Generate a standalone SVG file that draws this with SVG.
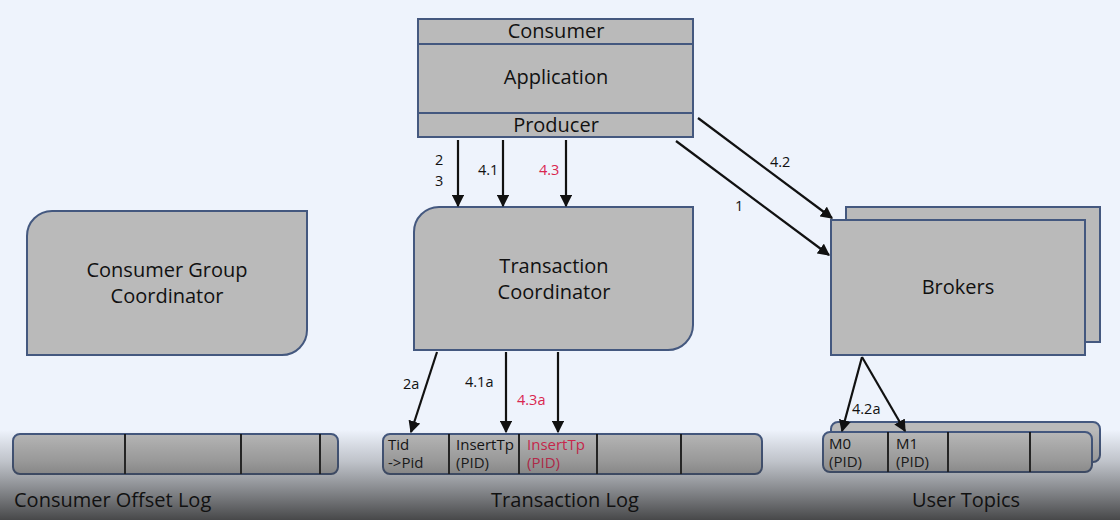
<svg xmlns="http://www.w3.org/2000/svg" width="1120" height="520" viewBox="0 0 1120 520">
<style>
text{font-family:"Open Sans","Noto Sans","Liberation Sans",sans-serif;fill:#111}
.box{fill:#bababa;stroke:#44587f;stroke-width:2}
.t{font-size:20px;text-anchor:middle}
.lbl{font-size:14.5px}
.cell{font-size:15px}
.red{fill:#d9264f}
.div{stroke:#111;stroke-width:1.8}
.ar{stroke:#111;stroke-width:2.2;fill:none;marker-end:url(#ah)}
.cap{font-size:20px}
</style>
<defs>
<marker id="ah" viewBox="0 0 10 10" refX="9" refY="5" markerWidth="5.5" markerHeight="5.5" orient="auto" markerUnits="strokeWidth">
<path d="M0,0 L10,5 L0,10 z" fill="#111"/>
</marker>
<linearGradient id="shade" x1="0" y1="0" x2="0" y2="1">
<stop offset="0" stop-color="#222" stop-opacity="0"/>
<stop offset="0.35" stop-color="#333" stop-opacity="0.25"/>
<stop offset="1" stop-color="#2a2a2a" stop-opacity="0.85"/>
</linearGradient>
</defs>
<rect x="0" y="0" width="1120" height="520" fill="#eef3fc"/>

<g id="application">
<rect class="box" x="418" y="19" width="275" height="118"/>
<line x1="418" y1="44" x2="693" y2="44" stroke="#44587f" stroke-width="2"/>
<line x1="418" y1="113" x2="693" y2="113" stroke="#44587f" stroke-width="2"/>
<text class="t" x="556" y="38">Consumer</text>
<text class="t" x="556" y="84">Application</text>
<text class="t" x="556" y="132">Producer</text>
</g>

<g id="consumer-group-coordinator">
<path class="box" d="M52,211 H307 V330 A25,25 0 0 1 282,355 H27 V236 A25,25 0 0 1 52,211 Z"/>
<text class="t" x="167" y="277">Consumer Group</text>
<text class="t" x="167" y="303">Coordinator</text>
</g>

<g id="transaction-coordinator">
<path class="box" d="M439,207 H693 V325 A25,25 0 0 1 668,350 H414 V232 A25,25 0 0 1 439,207 Z"/>
<text class="t" x="554" y="273">Transaction</text>
<text class="t" x="554" y="299">Coordinator</text>
</g>

<g id="brokers">
<rect class="box" x="846" y="207" width="254" height="135"/>
<rect class="box" x="831" y="220" width="254" height="135"/>
<text class="t" x="958" y="294">Brokers</text>
</g>

<g id="consumer-offset-log">
<rect class="box" x="13" y="434" width="325" height="40" rx="7"/>
<line class="div" x1="125" y1="434" x2="125" y2="474"/>
<line class="div" x1="241" y1="434" x2="241" y2="474"/>
<line class="div" x1="320" y1="434" x2="320" y2="474"/>
</g>

<g id="transaction-log">
<rect class="box" x="383" y="434" width="379" height="40" rx="7"/>
<line class="div" x1="449" y1="434" x2="449" y2="474"/>
<line class="div" x1="519" y1="434" x2="519" y2="474"/>
<line class="div" x1="597" y1="434" x2="597" y2="474"/>
<line class="div" x1="681" y1="434" x2="681" y2="474"/>
<text class="cell" x="388" y="450">Tid</text>
<text class="cell" x="388" y="468">-&gt;Pid</text>
<text class="cell" x="456" y="450">InsertTp</text>
<text class="cell" x="456" y="468">(PID)</text>
<text class="cell red" x="527" y="450">InsertTp</text>
<text class="cell red" x="527" y="468">(PID)</text>
</g>

<g id="user-topics">
<rect class="box" x="831" y="422" width="269" height="40" rx="7"/>
<rect class="box" x="823" y="432" width="269" height="40" rx="7"/>
<line class="div" x1="888" y1="432" x2="888" y2="472"/>
<line class="div" x1="948" y1="432" x2="948" y2="472"/>
<line class="div" x1="1030" y1="432" x2="1030" y2="472"/>
<text class="cell" x="829" y="449">M0</text>
<text class="cell" x="829" y="467">(PID)</text>
<text class="cell" x="896" y="449">M1</text>
<text class="cell" x="896" y="467">(PID)</text>
</g>

<g id="connectors">
<line class="ar" x1="458" y1="140" x2="458" y2="206"/>
<line class="ar" x1="503" y1="140" x2="503" y2="206"/>
<line class="ar" x1="566" y1="140" x2="566" y2="206"/>
<line class="ar" x1="698" y1="118" x2="832" y2="218"/>
<line class="ar" x1="676" y1="141" x2="829" y2="255"/>
<line class="ar" x1="437" y1="352" x2="411" y2="432"/>
<line class="ar" x1="506" y1="352" x2="506" y2="432"/>
<line class="ar" x1="558" y1="352" x2="558" y2="432"/>
<line class="ar" x1="862" y1="357" x2="842" y2="431"/>
<line class="ar" x1="862" y1="357" x2="905" y2="431"/>
<text class="lbl" x="435" y="165">2</text>
<text class="lbl" x="435" y="186">3</text>
<text class="lbl" x="478" y="175">4.1</text>
<text class="lbl red" x="539" y="175">4.3</text>
<text class="lbl" x="770" y="167">4.2</text>
<text class="lbl" x="735" y="211">1</text>
<text class="lbl" x="403" y="389">2a</text>
<text class="lbl" x="465" y="387">4.1a</text>
<text class="lbl red" x="517" y="405">4.3a</text>
<text class="lbl" x="852" y="414">4.2a</text>
</g>

<rect x="0" y="430" width="1120" height="90" fill="url(#shade)"/>
<text class="cap" x="14" y="507">Consumer Offset Log</text>
<text class="cap" x="565" y="507" text-anchor="middle">Transaction Log</text>
<text class="cap" x="966" y="507" text-anchor="middle">User Topics</text>
</svg>
